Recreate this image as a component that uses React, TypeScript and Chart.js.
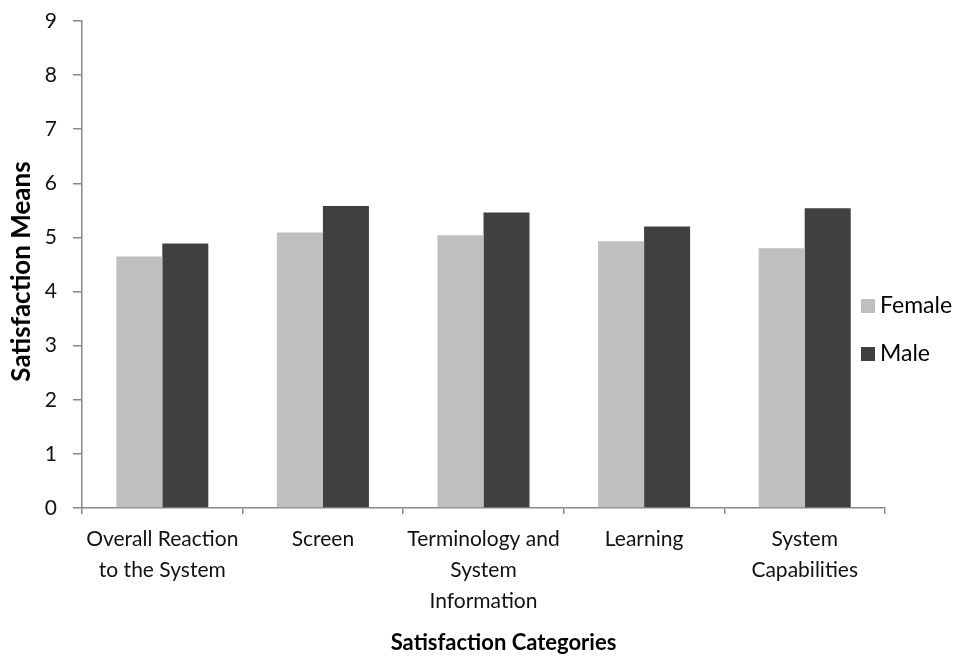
import { useEffect, useRef } from 'react';
import { Chart, registerables } from 'chart.js';

Chart.register(...registerables);

// Satisfaction categories (multi-line labels as shown under the axis)
const categories: (string | string[])[] = [
  ['Overall Reaction', 'to the System'],
  'Screen',
  ['Terminology and', 'System', 'Information'],
  'Learning',
  ['System', 'Capabilities'],
];

// Mean satisfaction scores by gender
const femaleMeans = [4.65, 5.09, 5.04, 4.93, 4.8];
const maleMeans = [4.89, 5.58, 5.46, 5.2, 5.54];

const seriesLabels = ['Female', 'Male'];
const seriesColors = ['#BFBFBF', '#404040'];

const yMin = 0;
const yMax = 9;

const xTitle = 'Satisfaction Categories';
const yTitle = 'Satisfaction Means';

const FONT = 'Lato, "Open Sans", sans-serif';
const AXIS_COLOR = '#888888';

// Draws the axis captions and the side legend
const captionsPlugin = {
  id: 'captions',
  afterDraw(chart: Chart) {
    const { ctx, chartArea } = chart;
    ctx.save();
    ctx.fillStyle = '#000';
    ctx.textAlign = 'center';
    ctx.textBaseline = 'middle';
    ctx.font = `bold 22px ${FONT}`;
    // x caption
    ctx.fillText(xTitle, (chartArea.left + chartArea.right) / 2 + 20, 643);
    // y caption
    ctx.save();
    ctx.translate(22, (chartArea.top + chartArea.bottom) / 2 + 7);
    ctx.rotate(-Math.PI / 2);
    ctx.font = `bold 26px ${FONT}`;
    ctx.fillText(yTitle, 0, 0);
    ctx.restore();

    // legend
    ctx.textAlign = 'left';
    ctx.font = `23px ${FONT}`;
    chart.data.datasets.forEach((ds, i) => {
      const cy = 306 + i * 48;
      const bx = chartArea.right - 24;
      ctx.fillStyle = ds.backgroundColor as string;
      ctx.fillRect(bx, cy - 7, 14, 14);
      ctx.fillStyle = '#000';
      ctx.fillText(ds.label as string, bx + 19, cy);
    });
    ctx.restore();
  },
};

export default function App() {
  const canvasRef = useRef<HTMLCanvasElement | null>(null);

  useEffect(() => {
    if (!canvasRef.current) return;
    const chart = new Chart(canvasRef.current, {
      type: 'bar',
      data: {
        labels: categories,
        datasets: [
          {
            label: seriesLabels[0],
            data: femaleMeans,
            backgroundColor: seriesColors[0],
            categoryPercentage: 0.573,
            barPercentage: 1.0,
          },
          {
            label: seriesLabels[1],
            data: maleMeans,
            backgroundColor: seriesColors[1],
            categoryPercentage: 0.573,
            barPercentage: 1.0,
          },
        ],
      },
      options: {
        animation: false,
        responsive: true,
        maintainAspectRatio: false,
        layout: { padding: { top: 21, right: 74, left: 0, bottom: 0 } },
        plugins: {
          legend: { display: false },
          tooltip: { enabled: false },
        },
        scales: {
          x: {
            afterFit(scale: any) {
              scale.height = 150;
            },
            grid: {
              display: true,
              drawOnChartArea: false,
              drawTicks: true,
              tickLength: 6,
              color: AXIS_COLOR,
              lineWidth: 1.5,
            },
            border: { display: true, color: AXIS_COLOR, width: 1.5 },
            ticks: {
              color: '#111',
              padding: 10,
              maxRotation: 0,
              autoSkip: false,
              font: { family: FONT, size: 21, lineHeight: '31px' as any },
            },
          },
          y: {
            min: yMin,
            max: yMax,
            afterFit(scale: any) {
              scale.width = 82;
              scale.paddingTop = 0;
              scale.paddingBottom = 0;
            },
            grid: {
              display: true,
              drawOnChartArea: false,
              drawTicks: true,
              tickLength: 9,
              color: AXIS_COLOR,
              lineWidth: 1.5,
            },
            border: { display: true, color: AXIS_COLOR, width: 1.5 },
            ticks: {
              stepSize: 1,
              color: '#111',
              padding: 16,
              font: { family: FONT, size: 21 },
            },
          },
        },
      },
      plugins: [captionsPlugin],
    });
    return () => chart.destroy();
  }, []);

  return (
    <div style={{ position: 'fixed', left: 0, top: 0, width: 959, height: 658, background: '#fff' }}>
      <canvas ref={canvasRef} />
    </div>
  );
}
